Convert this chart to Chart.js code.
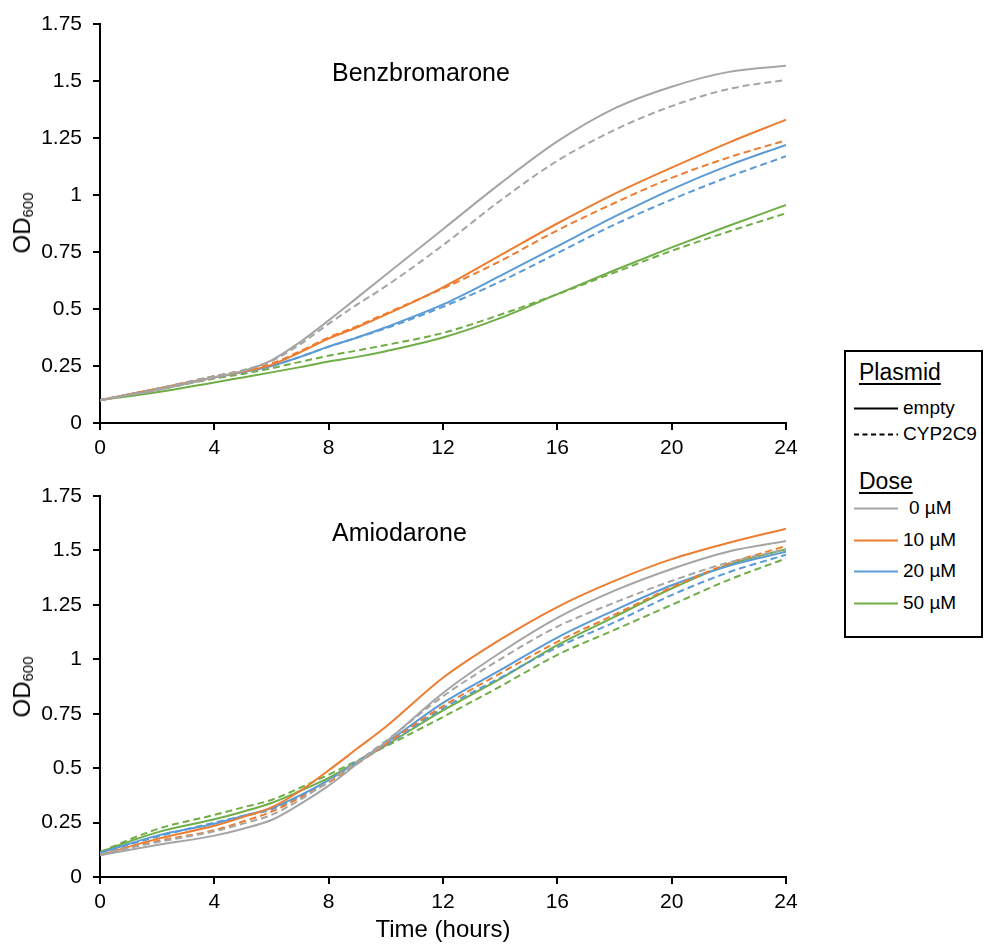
<!DOCTYPE html>
<html>
<head>
<meta charset="utf-8">
<script src="https://cdn.jsdelivr.net/npm/chart.js@4.4.1/dist/chart.umd.min.js"></script>
<style>
  body { margin: 0; width: 985px; height: 946px; background: #fff; position: relative; overflow: hidden;
         font-family: "Liberation Sans", Arial, sans-serif; color: #000; }
  canvas { position: absolute; left: 0; }
  #topChart { top: 0; }
  #botChart { top: 470px; }
  .drug { position: absolute; left: 332px; font-size: 25px; line-height: 26px; }
  .ylab { position: absolute; font-size: 24px; white-space: nowrap; transform: translate(-50%, -50%) rotate(-90deg); }
  .ylab sub { font-size: 15px; vertical-align: -3px; }
  #legend { position: absolute; left: 844px; top: 350px; width: 139px; height: 288px; box-sizing: border-box;
            border: 2px solid #000; background: #fff; }
  #legend .head { position: absolute; left: 13px; font-size: 23px; line-height: 24px; text-decoration: underline;
                  text-underline-offset: 3px; text-decoration-thickness: 2px; }
  #legend .row { position: absolute; left: 8px; height: 24px; }
  #legend .row svg { position: absolute; left: 0; top: 11px; }
  #legend .row span { position: absolute; left: 49px; top: 0; font-size: 19px; line-height: 24px; white-space: nowrap; }
</style>
</head>
<body>
<canvas id="topChart" width="830" height="470"></canvas>
<canvas id="botChart" width="830" height="476"></canvas>

<div class="drug" style="top:59px;">Benzbromarone</div>
<div class="drug" style="top:519px;">Amiodarone</div>
<div class="ylab" style="left:22px; top:223px;">OD<sub>600</sub></div>
<div class="ylab" style="left:22px; top:687px;">OD<sub>600</sub></div>

<div id="legend"></div>

<script>
// ---- data ----
const times = [0, 2, 4, 5, 6, 7, 8, 9, 10, 12, 14, 16, 18, 20, 22, 24];
const xTicks = [0, 4, 8, 12, 16, 20, 24];
const yTicks = [0, 0.25, 0.5, 0.75, 1, 1.25, 1.5, 1.75];
const doses = ['0 µM', '10 µM', '20 µM', '50 µM'];
const plasmids = ['empty', 'CYP2C9'];
const doseColors = ['#A5A5A5', '#ED7D31', '#5B9BD5', '#70AD47'];

// Benzbromarone, empty plasmid
const benzEmpty0  = [0.10, 0.145, 0.20, 0.228, 0.275, 0.355, 0.45, 0.55, 0.65, 0.85, 1.05, 1.235, 1.38, 1.475, 1.54, 1.567];
const benzEmpty10 = [0.10, 0.15, 0.20, 0.225, 0.255, 0.31, 0.37, 0.42, 0.475, 0.595, 0.735, 0.875, 1.005, 1.12, 1.23, 1.33];
const benzEmpty20 = [0.10, 0.15, 0.20, 0.222, 0.25, 0.29, 0.335, 0.375, 0.42, 0.52, 0.645, 0.775, 0.905, 1.025, 1.13, 1.22];
const benzEmpty50 = [0.10, 0.135, 0.178, 0.20, 0.222, 0.245, 0.27, 0.29, 0.315, 0.375, 0.46, 0.565, 0.67, 0.77, 0.865, 0.956];
// Benzbromarone, CYP2C9 plasmid
const benzCyp0  = [0.10, 0.15, 0.205, 0.232, 0.272, 0.345, 0.435, 0.52, 0.60, 0.78, 0.975, 1.15, 1.285, 1.39, 1.465, 1.505];
const benzCyp10 = [0.10, 0.15, 0.205, 0.23, 0.26, 0.315, 0.375, 0.425, 0.48, 0.59, 0.71, 0.845, 0.965, 1.075, 1.165, 1.24];
const benzCyp20 = [0.10, 0.15, 0.205, 0.225, 0.25, 0.29, 0.335, 0.375, 0.415, 0.51, 0.62, 0.745, 0.87, 0.98, 1.08, 1.17];
const benzCyp50 = [0.10, 0.145, 0.195, 0.215, 0.24, 0.268, 0.295, 0.318, 0.342, 0.395, 0.475, 0.565, 0.66, 0.755, 0.84, 0.92];

// Amiodarone, empty plasmid
const amioEmpty0  = [0.10, 0.147, 0.19, 0.222, 0.262, 0.335, 0.42, 0.52, 0.62, 0.845, 1.03, 1.19, 1.315, 1.415, 1.495, 1.543];
const amioEmpty10 = [0.10, 0.175, 0.235, 0.275, 0.32, 0.395, 0.49, 0.59, 0.69, 0.915, 1.09, 1.24, 1.36, 1.46, 1.535, 1.60];
const amioEmpty20 = [0.11, 0.19, 0.245, 0.28, 0.317, 0.375, 0.445, 0.53, 0.615, 0.80, 0.95, 1.10, 1.225, 1.34, 1.43, 1.494];
const amioEmpty50 = [0.115, 0.205, 0.265, 0.30, 0.34, 0.395, 0.455, 0.53, 0.605, 0.765, 0.91, 1.065, 1.195, 1.325, 1.435, 1.505];
// Amiodarone, CYP2C9 plasmid
const amioCyp0  = [0.105, 0.16, 0.21, 0.245, 0.285, 0.355, 0.44, 0.53, 0.625, 0.83, 1.0, 1.15, 1.26, 1.36, 1.445, 1.505];
const amioCyp10 = [0.10, 0.165, 0.215, 0.255, 0.30, 0.365, 0.435, 0.52, 0.61, 0.785, 0.935, 1.08, 1.205, 1.33, 1.44, 1.52];
const amioCyp20 = [0.11, 0.185, 0.25, 0.28, 0.31, 0.37, 0.445, 0.525, 0.605, 0.775, 0.915, 1.055, 1.17, 1.295, 1.40, 1.48];
const amioCyp50 = [0.115, 0.22, 0.285, 0.32, 0.354, 0.41, 0.47, 0.535, 0.60, 0.735, 0.875, 1.02, 1.135, 1.25, 1.365, 1.463];

const FONT = '"Liberation Sans", Arial, sans-serif';
const DASH = [7, 4];

function makeDatasets(emptyRows, cypRows) {
    const sets = [];
    emptyRows.forEach((row, i) => {
        sets.push({ label: plasmids[0] + ' ' + doses[i], data: row.map((v, k) => ({ x: times[k], y: v })),
                    borderColor: doseColors[i], borderWidth: 2, borderDash: [] });
        sets.push({ label: plasmids[1] + ' ' + doses[i], data: cypRows[i].map((v, k) => ({ x: times[k], y: v })),
                    borderColor: doseColors[i], borderWidth: 2, borderDash: DASH });
    });
    return sets;
}

function buildChart(id, datasets, padTop, xHeight, withTitle) {
    const tickFont = { family: FONT, size: 21 };
    return new Chart(document.getElementById(id), {
        type: 'line',
        data: { datasets },
        options: {
            responsive: false,
            animation: false,
            layout: { padding: { top: padTop, right: 44, left: 0, bottom: 0 } },
            elements: { point: { radius: 0 }, line: { cubicInterpolationMode: 'monotone', fill: false } },
            plugins: { legend: { display: false }, tooltip: { enabled: false } },
            scales: {
                x: {
                    type: 'linear', min: 0, max: 24,
                    afterBuildTicks: s => { s.ticks = xTicks.map(v => ({ value: v })); },
                    afterFit: s => { s.height = xHeight; },
                    grid: { drawOnChartArea: false, drawTicks: true, tickLength: 7, color: '#000', lineWidth: 2 },
                    border: { display: true, color: '#000', width: 2 },
                    ticks: { color: '#000', font: tickFont, padding: 6, maxRotation: 0, callback: v => String(v) },
                    title: { display: withTitle, text: 'Time (hours)', color: '#000',
                             font: { family: FONT, size: 24 }, padding: { top: 0, bottom: 1 } }
                },
                y: {
                    min: 0, max: 1.75,
                    afterBuildTicks: s => { s.ticks = yTicks.map(v => ({ value: v })); },
                    afterFit: s => { s.width = 100; },
                    grid: { drawOnChartArea: false, drawTicks: true, tickLength: 7, color: '#000', lineWidth: 2 },
                    border: { display: true, color: '#000', width: 2 },
                    ticks: { color: '#000', font: tickFont, padding: 11, callback: v => String(v) }
                }
            }
        }
    });
}

buildChart('topChart', makeDatasets([benzEmpty0, benzEmpty10, benzEmpty20, benzEmpty50],
                                    [benzCyp0, benzCyp10, benzCyp20, benzCyp50]), 24, 47, false);
buildChart('botChart', makeDatasets([amioEmpty0, amioEmpty10, amioEmpty20, amioEmpty50],
                                    [amioCyp0, amioCyp10, amioCyp20, amioCyp50]), 26, 69, true);

// ---- legend box ----
function addHead(text, top) {
    const d = document.createElement('div');
    d.className = 'head';
    d.style.top = top + 'px';
    d.textContent = text;
    legend.appendChild(d);
}
function addRow(text, color, dashed, top, textLeft) {
    const r = document.createElement('div');
    r.className = 'row';
    r.style.top = top + 'px';
    const dash = dashed ? 'stroke-dasharray="5,3.5"' : '';
    r.innerHTML = '<svg width="44" height="3"><line x1="0" y1="1.5" x2="44" y2="1.5" stroke="' + color +
                  '" stroke-width="2" ' + dash + '/></svg><span>' + text + '</span>';
    if (textLeft) r.querySelector('span').style.left = textLeft + 'px';
    legend.appendChild(r);
}
const legend = document.getElementById('legend');
addHead('Plasmid', 8);
addRow(plasmids[0], '#000', false, 44);
addRow(plasmids[1], '#000', true, 70);
addHead('Dose', 117);
const doseTops = [144, 176, 207, 239];
doses.forEach((d, i) => addRow(d, doseColors[i], false, doseTops[i], i === 0 ? 55 : 49));
</script>
</body>
</html>
